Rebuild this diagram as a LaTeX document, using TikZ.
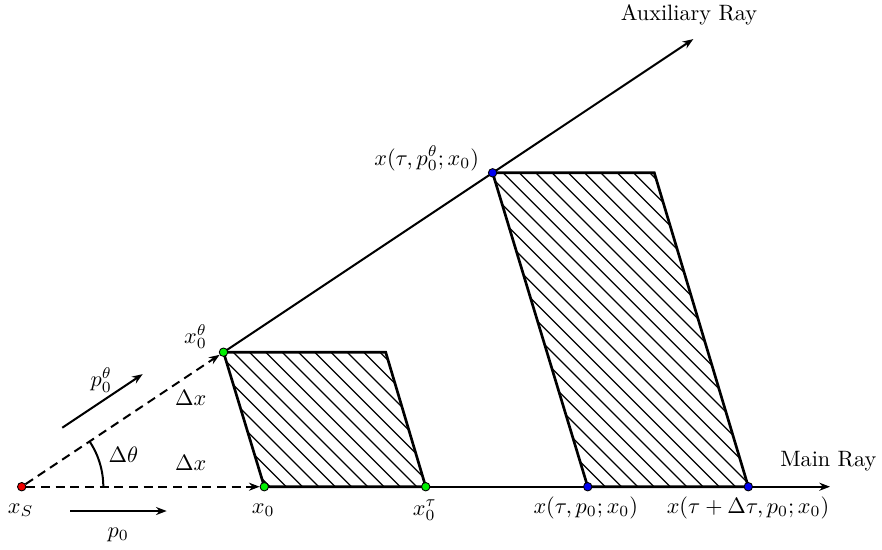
\documentclass[tikz,border=0pt]{standalone}
\usetikzlibrary{arrows.meta,calc}
\pgfdeclarelayer{bg}
\pgfsetlayers{bg,main}
\definecolor{dotred}{RGB}{240,0,0}
\definecolor{dotgreen}{RGB}{0,240,0}
\definecolor{dotblue}{RGB}{0,0,240}
\tikzset{
  dot/.style={circle,draw=black,line width=0.4pt,fill=#1,inner sep=0pt,minimum size=3.8pt},
  ray/.style={line width=0.9pt},
  dashray/.style={line width=0.9pt,dash pattern=on 4pt off 2.6pt},
  tip/.style={-{Stealth[length=4.8pt,width=3.6pt]}},
  border/.style={line width=1.2pt,line join=miter},
  hatch/.style={line width=0.55pt},
  lbl/.style={anchor=base,inner sep=0pt,font=\normalsize}
}
\begin{document}
\begin{tikzpicture}[x=0.45pt,y=0.45pt]
\useasboundingbox (0,0) rectangle (882,549);
% points
\node[dot=dotred]   (xS)   at (21.7,62.3) {};
\node[dot=dotgreen] (x0)   at (264.3,62.3) {};
\node[dot=dotgreen] (x0t)  at (425.7,62.3) {};
\node[dot=dotblue]  (xa)   at (587.7,62.3) {};
\node[dot=dotblue]  (xb)   at (748.3,62.3) {};
\node[dot=dotgreen] (x0th) at (223.5,196.8) {};
\node[dot=dotblue]  (xc)   at (492.6,376.2) {};
\coordinate (sTR) at (385.7,196.8);
\coordinate (lTR) at (654.3,376.2);
\coordinate (mainend) at (830,62.3);
\coordinate (auxend) at (693.3,509.9);
\coordinate (p0a) at (70,38);
\coordinate (p0b) at (166.7,38);
\coordinate (pta) at (62.3,121.3);
\coordinate (ptb) at (142.7,174.9);

\begin{pgfonlayer}{bg}
% hatching small
\begin{scope}
\clip (x0th.center) -- (sTR) -- (x0t.center) -- (x0.center) -- cycle;
\foreach \c in {315.9,332.2,...,600}
  \draw[hatch] ({\c-40},40) -- ({\c-220},220);
\end{scope}
% hatching large
\begin{scope}
\clip (xc.center) -- (lTR) -- (xb.center) -- (xa.center) -- cycle;
\foreach \c in {634.8,651.1,...,1045}
  \draw[hatch] ({\c-40},40) -- ({\c-400},400);
\end{scope}
% borders
\draw[border] (x0th.center) -- (sTR) -- (x0t.center) -- (x0.center) -- cycle;
\draw[border] (xc.center) -- (lTR) -- (xb.center) -- (xa.center) -- cycle;
% rays
\draw[ray,tip] (x0.center) -- (mainend);
\draw[ray,tip] (x0th.center) -- (auxend);
\end{pgfonlayer}
\draw[dashray,tip] (xS) -- (x0);
\draw[dashray,tip] (xS) -- (x0th);
\draw[ray,tip] (p0a) -- (p0b);
\draw[ray,tip] (pta) -- (ptb);
\draw[ray] ($(xS.center)+(81.6,0)$) arc[start angle=0,end angle=33.69,radius=36.72pt];

% labels
\node[lbl] (lxS) at (20.7,35.7) {$x_S$};
\node[lbl] (lp0) at (118.3,11.7) {$p_0$};
\node[lbl] (lpt) at (101.2,162.3) {$p_0^\theta$};
\node[lbl] (ldt) at (123.3,86.7) {$\Delta\theta$};
\node[lbl] (ldx1) at (190.8,144) {$\Delta x$};
\node[lbl] (ldx2) at (190.8,79) {$\Delta x$};
\node[lbl] (lx0) at (263.2,35.7) {$x_0$};
\node[lbl] (lx0th) at (195.5,205.7) {$x_0^\theta$};
\node[lbl] (lx0t) at (424.7,34) {$x_0^\tau$};
\node[lbl] (lxa) at (585.8,35.7) {$x(\tau,p_0;x_0)$};
\node[lbl] (lxb) at (748,35.7) {$x(\tau+\Delta\tau,p_0;x_0)$};
\node[lbl] (lxc) at (426.7,384) {$x(\tau,p_0^\theta;x_0)$};
\node[lbl] (lmain) at (828.3,82.3) {Main Ray};
\node[lbl] (laux) at (689,529) {Auxiliary Ray};
\end{tikzpicture}
\end{document}
